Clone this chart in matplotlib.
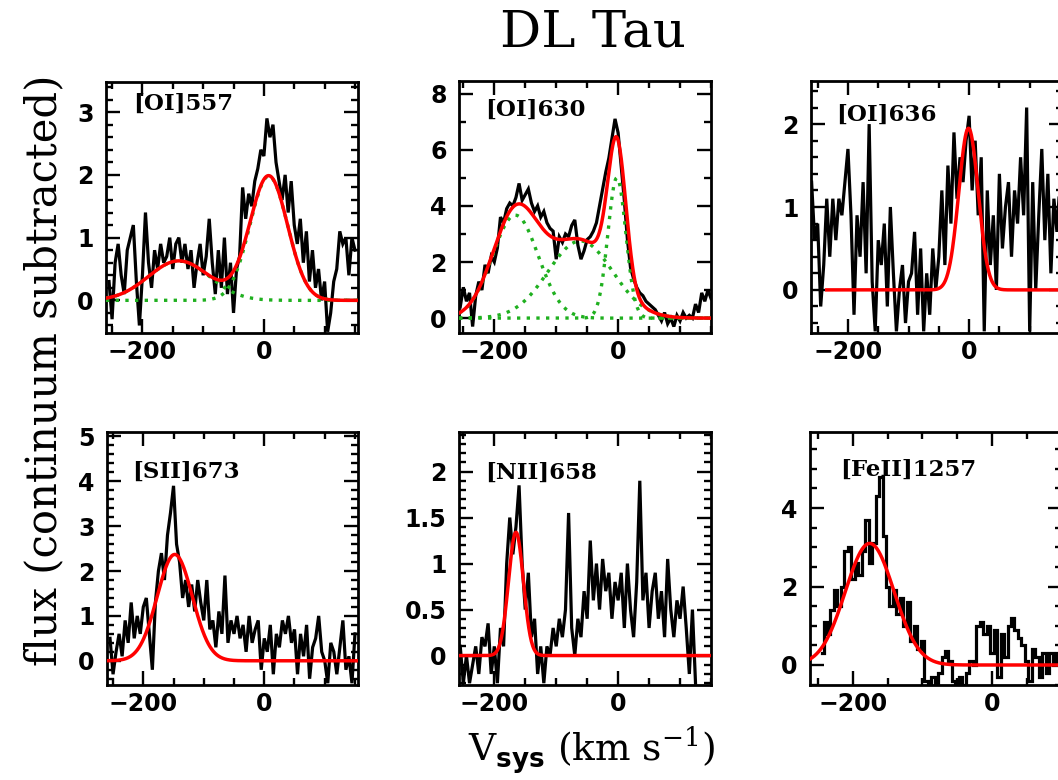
import numpy as np
import matplotlib
matplotlib.use("Agg")
import matplotlib.pyplot as plt
from matplotlib.ticker import MultipleLocator, FormatStrFormatter
from matplotlib.font_manager import FontProperties

# ---------------- spectra (continuum subtracted), sampled every 5 km/s ----------------
step = 5.0

v0_557 = -255
flux_557 = [0.3, -0.3, 0.6, 0.9, 0.4, 0.1, 0.8, 1.0, 1.2, 0.3, -0.4, 0.4, 1.4, 0.6, 0.2, 0.8,
            0.5, 0.9, 0.6, 0.7, 1.0, 0.5, 0.9, 1.0, 0.6, 0.9, 0.5, 0.8, 0.2, 0.6, 0.9, 0.4,
            0.7, 1.3, 0.6, 0.1, 0.8, 0.2, 1.0, 0.1, 0.6, -0.2, 0.5, 0.7, 1.8, 1.3, 1.7, 1.5,
            1.9, 2.1, 2.4, 2.3, 2.9, 2.6, 2.8, 2.2, 1.9, 1.6, 2.0, 1.4, 1.9, 1.2, 0.9, 1.3,
            0.6, 1.1, 0.3, 0.8, 0.2, 0.5, 0.0, 0.3, -0.5, -0.2, 0.3, 0.5, 1.1, 0.9, 1.0, 0.4,
            1.0, 0.8]

v0_630 = -255
flux_630 = [0.4, 1.1, 0.6, 0.9, -0.3, 0.8, 1.3, 1.0, 1.9, 1.6, 2.2, 2.0, 2.5, 3.6, 3.4, 3.9,
            4.1, 4.0, 4.3, 4.8, 4.2, 4.4, 4.6, 4.1, 3.8, 4.0, 3.6, 3.8, 3.4, 3.2, 3.1, 2.1,
            2.9, 2.7, 3.0, 2.9, 3.3, 3.5, 2.6, 2.1, 2.4, 2.8, 2.9, 3.1, 3.4, 4.0, 4.6, 5.2,
            5.7, 6.4, 7.1, 6.6, 5.4, 4.2, 2.8, 1.8, 1.4, 1.1, 0.9, 0.8, 0.6, 0.5, 0.4, 0.3,
            0.1, -0.1, 0.2, -0.2, 0.0, -0.3, 0.1, -0.1, 0.2, 0.0, 0.1, 0.0, 0.5, 0.2, 0.9, 0.6,
            1.0, 0.7]

v0_636 = -260
flux_636 = [1.3, 0.6, 0.8, -0.2, 0.3, 1.1, 0.4, 1.1, 0.6, 1.1, 0.9, 1.3, 1.7, 0.9, -0.3, 0.9,
            0.4, 1.3, 0.2, 2.0, 0.1, -0.5, 0.6, 0.3, 0.8, -0.2, 1.0, 0.2, -0.5, 0.0, 0.3, -0.4,
            0.1, 0.2, 0.7, -0.3, 0.5, -0.5, 0.2, -0.3, 0.5, 0.0, 0.4, 1.2, 0.3, 1.5, 0.8, 1.9,
            1.1, 1.6, 1.3, 1.8, 2.1, 1.2, 1.8, 0.9, 1.6, -0.5, 1.2, 0.3, 0.9, 0.0, 1.4, 0.5,
            1.0, 1.3, 0.4, 1.2, 0.8, 1.6, 0.9, 2.2, -0.5, 1.3, 0.0, 0.9, 1.7, 0.6, 1.4, 0.2,
            1.1, 0.7, 1.3]

v0_673 = -255
flux_673 = [0.5, -0.3, 0.2, 0.6, 0.1, 0.9, 0.4, 1.3, 0.5, 1.0, 0.6, 1.2, 1.4, 0.6, -0.2, 1.3,
            2.0, 2.4, 1.8, 2.8, 3.3, 3.9, 2.6, 2.2, 1.4, 1.8, 1.2, 1.7, 1.1, 1.8, 1.3, 0.9,
            1.8, 0.7, 0.9, 0.3, 1.1, 0.6, 1.9, 0.4, 0.9, 0.6, 1.0, 0.5, 0.8, 0.2, 1.0, 0.4,
            0.7, 0.9, -0.2, 0.5, 0.2, 0.8, -0.3, 0.6, 0.3, 0.9, 0.6, 1.0, 0.4, 0.7, -0.3, 0.6,
            0.1, 0.8, -0.4, 0.3, 0.5, 1.0, 0.2, 0.0, -0.5, 0.4, 0.2, -0.3, 0.3, 0.9, -0.2, 0.1,
            -0.5, 0.6]

v0_658 = -255
flux_658 = [0.1, -0.3, 0.0, -0.3, -0.1, 0.1, -0.2, 0.2, 0.1, 0.35, -0.2, 0.1, -0.3, 0.3, 0.1, 1.0,
            1.5, 1.1, 1.4, 1.85, 1.0, 0.5, 0.9, 0.2, 0.4, -0.2, 0.1, -0.3, 0.1, 0.0, 0.3, 0.1,
            0.4, 0.2, 0.5, 1.55, 0.3, 0.0, 0.4, 0.2, 0.7, 0.4, 1.25, 0.6, 1.0, 0.5, 1.05, 0.7,
            0.9, 0.4, 0.8, 0.6, 0.9, 0.3, 1.0, 0.5, 0.2, 0.8, 1.9, 0.6, 0.9, 0.3, 0.7, 0.9,
            0.4, 0.7, 0.2, 1.05, 0.5, 0.2, 0.6, 0.4, 0.75, 0.3, -0.2, 0.5, -0.3]

v0_1257 = -245
flux_1257 = [0.3, 1.1, 0.8, 1.4, 1.9, 1.5, 2.0, 2.9, 3.0, 2.2, 2.6, 2.3, 2.9, 3.7, 2.6, 3.1,
             4.3, 4.8, 3.3, 2.0, 1.5, 1.9, 1.3, 1.7, 1.0, 1.6, 0.6, 1.0, 0.4, 0.6, -0.4, -0.5,
             -0.3, -0.5, -0.2, 0.2, 0.35, 0.1, -0.4, -0.5, -0.3, -0.5, -0.2, 0.1, 0.0, 1.0, 1.1, 0.8,
             1.0, 0.3, 0.9, -0.3, 0.8, 0.2, 1.0, 1.2, 0.9, 0.7, 0.5, 0.1, -0.4, 0.4, 0.2, -0.3,
             0.3, -0.2, 0.3, 0.0, 0.3]

# ---------------- Gaussian fit components: amplitude, centre (km/s), sigma (km/s) ----------------
fit_557_amp = [0.63, 1.98]
fit_557_cen = [-140.0, 8.0]
fit_557_sig = [50.0, 31.0]

fit_630_amp = [3.67, 2.75, 5.0]
fit_630_cen = [-166.0, -61.0, -2.0]
fit_630_sig = [37.0, 52.0, 14.5]

fit_636_amp = [1.95]
fit_636_cen = [-1.0]
fit_636_sig = [16.0]

fit_673_amp = [2.37]
fit_673_cen = [-148.0]
fit_673_sig = [29.0]

fit_658_amp = [1.34]
fit_658_cen = [-165.0]
fit_658_sig = [12.0]

fit_1257_amp = [3.1]
fit_1257_cen = [-176.0]
fit_1257_sig = [35.0]

line_names = ["[OI]557", "[OI]630", "[OI]636", "[SII]673", "[NII]658", "[FeII]1257"]

# ---------------- figure layout ----------------
W, H = 1058, 780
fig = plt.figure(figsize=(W / 100, H / 100), dpi=100)
fig.patch.set_facecolor("white")

plt.rcParams["mathtext.fontset"] = "custom"
plt.rcParams["mathtext.rm"] = "DejaVu Serif"
plt.rcParams["mathtext.bf"] = "DejaVu Sans:bold"

tick_font = FontProperties(family="DejaVu Sans", weight="bold", size=17)


def add_panel(left, top, right, bottom):
    return fig.add_axes([left / W, 1 - bottom / H, (right - left) / W, (bottom - top) / H])


def gauss(v, a, c, s):
    return a * np.exp(-0.5 * ((v - c) / s) ** 2)


panels = [
    dict(box=(106, 82, 358, 333), v0=v0_557, flux=flux_557, amp=fit_557_amp, cen=fit_557_cen,
         sig=fit_557_sig, xlim=(-260, 155), ylim=(-0.52, 3.48), ymaj=1, ymin=0.2, comps=True,
         fit_from=None, lab=(27, 22), steps=False),
    dict(box=(459, 81, 711, 333), v0=v0_630, flux=flux_630, amp=fit_630_amp, cen=fit_630_cen,
         sig=fit_630_sig, xlim=(-257, 150), ylim=(-0.53, 8.45), ymaj=2, ymin=1, comps=True,
         fit_from=None, lab=(26, 29), steps=False),
    dict(box=(811, 81, 1063, 333), v0=v0_636, flux=flux_636, amp=fit_636_amp, cen=fit_636_cen,
         sig=fit_636_sig, xlim=(-261, 155), ylim=(-0.52, 2.52), ymaj=1, ymin=0.2, comps=False,
         fit_from=-235, lab=(25, 34), steps=False),
    dict(box=(107, 432, 358, 685), v0=v0_673, flux=flux_673, amp=fit_673_amp, cen=fit_673_cen,
         sig=fit_673_sig, xlim=(-260, 155), ylim=(-0.54, 5.1), ymaj=1, ymin=0.2, comps=False,
         fit_from=None, lab=(25, 40), steps=False),
    dict(box=(459, 432, 711, 685), v0=v0_658, flux=flux_658, amp=fit_658_amp, cen=fit_658_cen,
         sig=fit_658_sig, xlim=(-257, 150), ylim=(-0.32, 2.43), ymaj=0.5, ymin=0.1, comps=False,
         fit_from=None, lab=(26, 41), steps=False),
    dict(box=(810, 432, 1062, 685), v0=v0_1257, flux=flux_1257, amp=fit_1257_amp, cen=fit_1257_cen,
         sig=fit_1257_sig, xlim=(-262, 101), ylim=(-0.51, 5.94), ymaj=2, ymin=0.5, comps=False,
         fit_from=None, lab=(30, 38), steps=True),
]

for p, name in zip(panels, line_names):
    ax = add_panel(*p["box"])
    flux = np.array(p["flux"])
    vel = p["v0"] + step * np.arange(len(flux))
    ax.plot(vel, flux, color="black", lw=2.3, zorder=2, solid_joinstyle="miter",
            drawstyle="steps-mid" if p["steps"] else "default")

    x0 = p["xlim"][0] if p["fit_from"] is None else p["fit_from"]
    vv = np.linspace(x0, p["xlim"][1] + 5, 600)
    total = np.zeros_like(vv)
    for a, c, s in zip(p["amp"], p["cen"], p["sig"]):
        g = gauss(vv, a, c, s)
        total += g
        if p["comps"]:
            ax.plot(vv, g, color="#1fb01f", lw=2.4, ls=(0, (1.0, 1.9)), zorder=3)
    ax.plot(vv, total, color="red", lw=2.5, zorder=4)

    ax.set_xlim(*p["xlim"])
    ax.set_ylim(*p["ylim"])
    ax.xaxis.set_major_locator(MultipleLocator(200))
    ax.xaxis.set_minor_locator(MultipleLocator(50))
    ax.yaxis.set_major_locator(MultipleLocator(p["ymaj"]))
    ax.yaxis.set_minor_locator(MultipleLocator(p["ymin"]))
    ax.yaxis.set_major_formatter(FormatStrFormatter("%g"))
    ax.tick_params(which="both", direction="in", top=True, right=True, width=1.7)
    ax.tick_params(which="major", length=10)
    ax.tick_params(which="minor", length=5)
    ax.tick_params(axis="x", pad=5)
    ax.tick_params(axis="y", pad=9)
    for lbl in ax.get_xticklabels() + ax.get_yticklabels():
        lbl.set_fontproperties(tick_font)
    for sp in ax.spines.values():
        sp.set_linewidth(2.0)

    bw = p["box"][2] - p["box"][0]
    bh = p["box"][3] - p["box"][1]
    ax.text(p["lab"][0] / bw, 1 - p["lab"][1] / bh, name, transform=ax.transAxes,
            ha="left", va="center", fontsize=16.5, family="DejaVu Serif", weight="bold",
            zorder=5)

fig.text(593 / W, 1 - 33 / H, "DL Tau", ha="center", va="center",
         family="DejaVu Serif", fontsize=37)
fig.text(44 / W, 1 - 370 / H, "flux (continuum subtracted)", ha="center", va="center",
         rotation=90, family="DejaVu Serif", fontsize=30)
fig.text(592 / W, 1 - 750 / H, r"V$_{\mathbf{sys}}$ (km s$^{\mathrm{-1}}$)", ha="center",
         va="center", family="DejaVu Serif", fontsize=27)

fig.savefig("out.png", dpi=100)
